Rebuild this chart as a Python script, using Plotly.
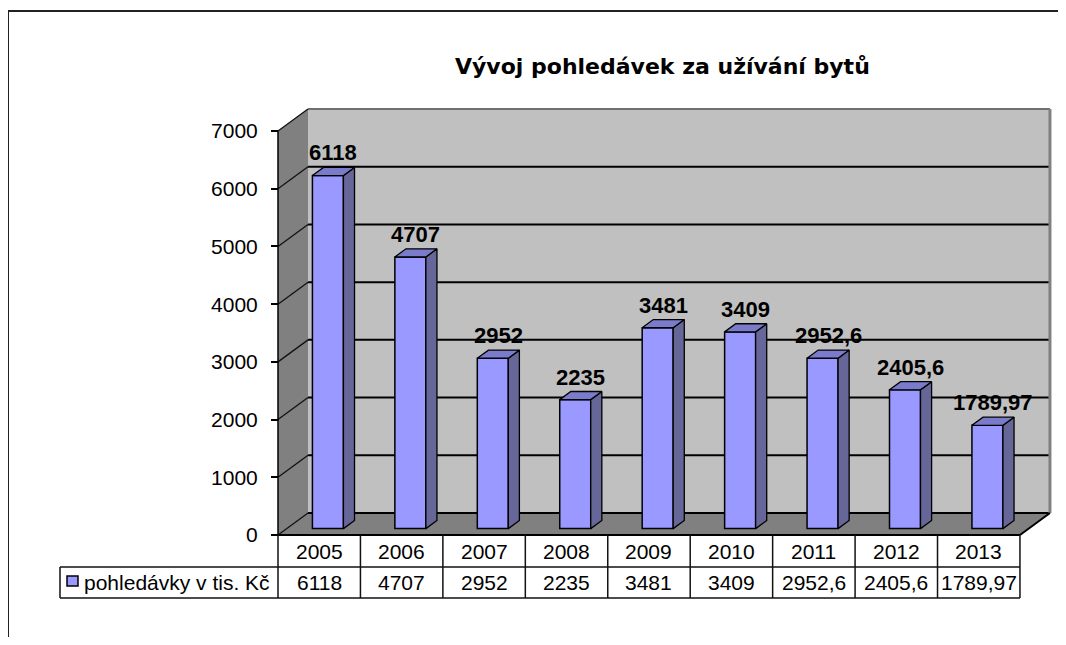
import plotly.graph_objects as go

# ---------------- data ----------------
years = ["2005", "2006", "2007", "2008", "2009", "2010", "2011", "2012", "2013"]
values = [6118, 4707, 2952, 2235, 3481, 3409, 2952.6, 2405.6, 1789.97]
y_ticks = [0, 1000, 2000, 3000, 4000, 5000, 6000, 7000]
title_text = "Vývoj pohledávek za užívání bytů"
series_name = "pohledávky v tis. Kč"


def fmt(v):
    return f"{v:g}".replace(".", ",")


# ---------------- geometry (pixel calibration of the axes) ----------------
OFF = 8                       # page body margin
W, H = 1066 - 2 * OFF, 645 - 2 * OFF
COL_PX = 82.44        # pixels per category
VAL_PX = 0.05771      # pixels per value unit
X0_PX = 278 - OFF     # left edge of the floor / table
Y0_PX = 535 - OFF     # front baseline
X_RANGE = [-0.5 - X0_PX / COL_PX, -0.5 + (W - X0_PX) / COL_PX]
Y_RANGE = [-(H - Y0_PX) / VAL_PX, Y0_PX / VAL_PX]
DX = 30 / COL_PX      # depth offset (x) of the back wall
DY = 22 / VAL_PX      # depth offset (y) of the back wall
F_DEPTH = 0.29        # bar front position as fraction of depth
G_DEPTH = 0.37        # bar depth as fraction of depth
BW = 31 / COL_PX      # bar width

n = len(years)
xL, xR = -0.5, n - 0.5
ymax = y_ticks[-1]


def px_x(px):
    return (px - OFF - X0_PX) / COL_PX - 0.5


def px_paper(px):
    return max(0.0, (px - OFF) / W)


def py_paper(py):
    return min(1.0, 1 - (py - OFF) / H)


FONT = "Liberation Sans, Arial, sans-serif"
FRONT = "#9999FF"
SIDE = "#666699"
TOP = "#7B7BCC"

shapes = []
# back wall
shapes.append(dict(type="rect", xref="x", yref="y", x0=xL + DX, x1=xR + DX, y0=DY, y1=ymax + DY,
                   fillcolor="#C0C0C0", line=dict(width=0), layer="below"))
# floor
shapes.append(dict(type="path", xref="x", yref="y",
                   path=f"M {xL},0 L {xR},0 L {xR + DX},{DY} L {xL + DX},{DY} Z",
                   fillcolor="#808080", line=dict(width=0), layer="below"))
# side wall
shapes.append(dict(type="path", xref="x", yref="y",
                   path=f"M {xL},0 L {xL + DX},{DY} L {xL + DX},{ymax + DY} L {xL},{ymax} Z",
                   fillcolor="#808080", line=dict(width=0), layer="below"))
# gridlines on back wall and side wall
for t in y_ticks:
    col = "#707070" if t == ymax else "#000000"
    shapes.append(dict(type="line", xref="x", yref="y", x0=xL + DX, x1=xR + DX, y0=t + DY, y1=t + DY,
                       line=dict(color=col, width=2), layer="below"))
    shapes.append(dict(type="line", xref="x", yref="y", x0=xL, x1=xL + DX, y0=t, y1=t + DY,
                       line=dict(color="#111111", width=1.3), layer="below"))
# right edge of back wall
shapes.append(dict(type="line", xref="x", yref="y", x0=xR + DX, x1=xR + DX, y0=DY, y1=ymax + DY,
                   line=dict(color="#808080", width=3), layer="below"))
# front value axis line
shapes.append(dict(type="line", xref="x", yref="y", x0=xL, x1=xL, y0=0, y1=ymax,
                   line=dict(color="#000000", width=1.5), layer="below"))
# floor right edge and front edge
shapes.append(dict(type="line", xref="x", yref="y", x0=xR, x1=xR + DX, y0=0, y1=DY,
                   line=dict(color="#000000", width=2), layer="below"))
shapes.append(dict(type="line", xref="x", yref="y", x0=xL, x1=xR, y0=0, y1=0,
                   line=dict(color="#000000", width=2)))

# ---------------- data table ----------------
ROW1_TOP, ROW2_TOP, ROW2_BOT = 535, 567, 598
LEG_LEFT = 60
TBL = "#111111"
for py in (ROW2_TOP, ROW2_BOT):
    shapes.append(dict(type="line", xref="x", yref="paper", x0=px_x(LEG_LEFT), x1=xR,
                       y0=py_paper(py), y1=py_paper(py), line=dict(color=TBL, width=1.5)))
for k in range(n + 1):
    shapes.append(dict(type="line", xref="x", yref="paper", x0=k - 0.5, x1=k - 0.5,
                       y0=py_paper(ROW1_TOP), y1=py_paper(ROW2_BOT), line=dict(color=TBL, width=1.5)))
shapes.append(dict(type="line", xref="x", yref="paper", x0=px_x(LEG_LEFT), x1=px_x(LEG_LEFT),
                   y0=py_paper(ROW2_TOP), y1=py_paper(ROW2_BOT), line=dict(color=TBL, width=1.5)))
# legend key
shapes.append(dict(type="rect", xref="paper", yref="paper", x0=px_paper(67), x1=px_paper(78),
                   y0=py_paper(586), y1=py_paper(576), fillcolor=FRONT,
                   line=dict(color="#000000", width=1.5)))

# outer frame
shapes.append(dict(type="line", xref="paper", yref="paper", x0=px_paper(4), x1=1,
                   y0=py_paper(11), y1=py_paper(11), line=dict(color="#222222", width=2)))
shapes.append(dict(type="line", xref="paper", yref="paper", x0=px_paper(8), x1=px_paper(8),
                   y0=py_paper(11), y1=0, line=dict(color="#222222", width=2)))

# ---------------- traces ----------------
base = F_DEPTH * DY
bar_x = [i + F_DEPTH * DX for i in range(n)]

fig = go.Figure()
fig.add_trace(go.Bar(x=bar_x, y=values, base=base, width=BW,
                     marker=dict(color=FRONT, line=dict(color="#000000", width=1.5)),
                     hoverinfo="skip", showlegend=False))

side_x, side_y, top_x, top_y = [], [], [], []
gx, gy = G_DEPTH * DX, G_DEPTH * DY
for cx, v in zip(bar_x, values):
    xl, xr = cx - BW / 2, cx + BW / 2
    yt = base + v
    side_x += [xr, xr + gx, xr + gx, xr, xr, None]
    side_y += [base, base + gy, yt + gy, yt, base, None]
    top_x += [xl, xr, xr + gx, xl + gx, xl, None]
    top_y += [yt, yt, yt + gy, yt + gy, yt, None]

fig.add_trace(go.Scatter(x=side_x, y=side_y, mode="lines", fill="toself", fillcolor=SIDE,
                         line=dict(color="#000000", width=1.3), hoverinfo="skip", showlegend=False))
fig.add_trace(go.Scatter(x=top_x, y=top_y, mode="lines", fill="toself", fillcolor=TOP,
                         line=dict(color="#000000", width=1.3), hoverinfo="skip", showlegend=False))

annotations = []
# data labels
for cx, v in zip(bar_x, values):
    annotations.append(dict(x=cx + gx / 2, y=base + v + gy, xref="x", yref="y", text=f"<b>{fmt(v)}</b>",
                            showarrow=False, xanchor="center", yanchor="bottom", yshift=0,
                            font=dict(family=FONT, size=22, color="#000000")))
# table texts
for i, (yr, v) in enumerate(zip(years, values)):
    annotations.append(dict(x=i, y=py_paper((ROW1_TOP + ROW2_TOP) / 2), xref="x", yref="paper", text=yr,
                            showarrow=False, xanchor="center", yanchor="middle",
                            font=dict(family=FONT, size=21, color="#000000")))
    annotations.append(dict(x=i, y=py_paper((ROW2_TOP + ROW2_BOT) / 2), xref="x", yref="paper", text=fmt(v),
                            showarrow=False, xanchor="center", yanchor="middle",
                            font=dict(family=FONT, size=21, color="#000000")))
annotations.append(dict(x=px_paper(82), y=py_paper((ROW2_TOP + ROW2_BOT) / 2), xref="paper", yref="paper",
                        text=series_name, showarrow=False, xanchor="left", yanchor="middle",
                        font=dict(family=FONT, size=21, color="#000000")))
# title
annotations.append(dict(x=px_paper(662), y=py_paper(67), xref="paper", yref="paper", text=f"<b>{title_text}</b>",
                        showarrow=False, xanchor="center", yanchor="middle",
                        font=dict(family="DejaVu Sans, Verdana, sans-serif", size=22, color="#000000")))

fig.update_layout(
    width=W, height=H,
    margin=dict(l=0, r=0, t=0, b=0),
    paper_bgcolor="white", plot_bgcolor="white",
    showlegend=False,
    shapes=shapes,
    annotations=annotations,
    xaxis=dict(range=X_RANGE, visible=False, fixedrange=True, domain=[0, 1]),
    yaxis=dict(range=Y_RANGE, domain=[0, 1], anchor="free", position=(xL - X_RANGE[0]) / (X_RANGE[1] - X_RANGE[0]),
               tickmode="array", tickvals=y_ticks, ticktext=[str(t) for t in y_ticks],
               ticks="outside", ticklen=7, tickwidth=1.5, tickcolor="#000000",
               ticklabelstandoff=9,
               tickfont=dict(family=FONT, size=21, color="#000000"),
               showgrid=False, zeroline=False, showline=False, fixedrange=True),
)

fig.write_html("out.html")
